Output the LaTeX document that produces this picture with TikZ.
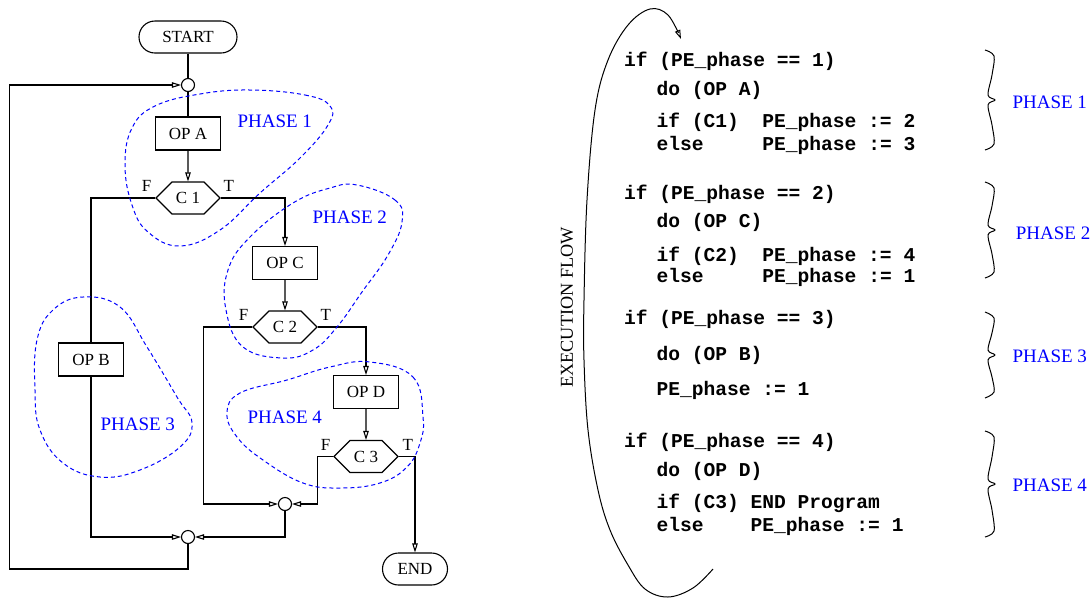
\documentclass[tikz,border=0pt]{standalone}
\usepackage{fontspec}
\setmainfont{Liberation Serif}
\newfontfamily\codefont{Liberation Mono}
\usetikzlibrary{arrows.meta,shapes.symbols}
\newcommand\chartfont{\fontsize{17}{20}\selectfont}
\newcommand\phasefont{\fontsize{19}{22}\selectfont}
\newcommand\listfont{\codefont\bfseries\fontsize{19.6}{22}\selectfont}
\tikzset{
  opbox/.style={draw, minimum width=65pt, minimum height=33pt, inner sep=0pt, font=\chartfont},
  termbox/.style={draw, rounded corners=16pt, minimum width=65pt, minimum height=32pt, inner sep=0pt, font=\chartfont},
  testhex/.style={draw, signal, signal to=east and west, signal pointer angle=90, minimum width=64pt, minimum height=32pt, inner sep=0pt, font=\chartfont},
  joint/.style={draw, circle, minimum size=13pt, inner sep=0pt},
  flag/.style={inner sep=0pt, font=\chartfont},
  phase/.style={inner sep=0pt, text=blue, font=\phasefont, anchor=base west},
  code/.style={inner sep=0pt, font=\listfont, anchor=base west},
  blob/.style={draw=blue, dash pattern=on 4pt off 3pt, line width=1pt},
  brc/.style={line width=1pt},
  arrowin/.style={-{Triangle[open, length=9pt, width=5.5pt]}}
}
\begin{document}
\begin{tikzpicture}[x=1pt, y=-1pt, line width=1.1pt]
  \useasboundingbox (0,0) rectangle (1090,598);
  \node[termbox, minimum width=98pt] (start) at (188,37) {START};
  \node[joint] (j1) at (188,85) {};
  \node[opbox] (opa) at (188,133.5) {OP A};
  \node[testhex] (c1) at (188,198) {C 1};
  \node[opbox] (opc) at (285,263) {OP C};
  \node[testhex] (c2) at (285,327) {C 2};
  \node[opbox] (opd) at (366,392) {OP D};
  \node[testhex] (c3) at (366,456.5) {C 3};
  \node[termbox] (stop) at (415,569) {END};
  \node[opbox] (opb) at (91,359.5) {OP B};
  \node[joint] (j2) at (285,504) {};
  \node[joint] (j3) at (188,537) {};
  \coordinate (back) at (9.5,569);
  \node[flag, anchor=base east] (c1f) at (152,191) {F};
  \node[flag, anchor=base west] (c1t) at (223,191) {T};
  \node[flag, anchor=base east] (c2f) at (249,320) {F};
  \node[flag, anchor=base west] (c2t) at (320,320) {T};
  \node[flag, anchor=base east] (c3f) at (331,450) {F};
  \node[flag, anchor=base west] (c3t) at (402,450) {T};
  \begin{scope}
    \draw (start) -- (j1);
    \draw (j1) -- (opa);
    \draw[arrowin] (opa) -- (c1);
    \draw[arrowin] (c1.east) -| (opc.north);
    \draw[arrowin] (opc) -- (c2);
    \draw[arrowin] (c2.east) -| (opd.north);
    \draw[arrowin] (opd) -- (c3);
    \draw[arrowin] (c3.east) -| (stop.north);
    \draw (c1.west) -| (opb.north);
    \draw[arrowin] (opb.south) |- (j3.west);
    \draw[arrowin] (c2.west) -- ++(-49,0) |- (j2.west);
    \draw[arrowin] (c3.west) -- ++(-16,0) |- (j2.east);
    \draw[arrowin] (j2.south) |- (j3.east);
    \draw[arrowin] (j3.south) |- (back) |- (j1.west);
  \end{scope}
  \draw[blob] plot[smooth cycle, tension=0.7] coordinates {(250,90) (305,95) (330,106) (328,125) (300,158) (260,193) (220,230) (180,246) (148,232) (132,205) (125,165) (132,128) (155,106) (200,94)};
  \draw[blob] plot[smooth cycle, tension=0.7] coordinates {(357,185) (395,200) (402,222) (388,255) (362,292) (337,327) (313,350) (283,358) (243,347) (226,310) (228,270) (250,237) (293,203) (330,188)};
  \draw[blob] plot[smooth cycle, tension=0.7] coordinates {(83,297) (120,307) (147,347) (177,397) (192,423) (180,447) (140,470) (100,477) (63,463) (40,430) (35,390) (37,340) (53,310)};
  \draw[blob] plot[smooth cycle, tension=0.7] coordinates {(370,362) (413,377) (423,417) (420,443) (407,467) (380,483) (340,488) (303,483) (263,460) (237,437) (227,413) (240,393) (287,380) (330,367)};
  \node[phase] (ph1) at (237,127) {PHASE 1};
  \node[phase] (ph2) at (312,223) {PHASE 2};
  \node[phase] (ph3) at (100,430) {PHASE 3};
  \node[phase] (ph4) at (247,423) {PHASE 4};
  \node[rotate=90, font=\fontsize{18.2}{20}\selectfont] (exec) at (567,307.5) {EXECUTION FLOW};
  \draw[arrowin, line width=1pt] plot[smooth, tension=0.6] coordinates {(713,569) (693,588) (668,597) (645,589) (628,565) (610,530) (598,490) (588,430) (584,360) (584,300) (587,200) (595,110) (608,60) (628,25) (650,9) (668,15) (681,39)};
  \node[code] (ph1test) at (623.5,66.5) {if (PE\_phase == 1)};
  \node[code] (ph1do) at (656,95.7) {do (OP A)};
  \node[code] (ph1if) at (656,127.7) {if (C1)\ \ PE\_phase := 2};
  \node[code] (ph1else) at (656,150.7) {else\ \ \ \ \ PE\_phase := 3};
  \node[code] (ph2test) at (623.5,199) {if (PE\_phase == 2)};
  \node[code] (ph2do) at (656,227.7) {do (OP C)};
  \node[code] (ph2if) at (656,261) {if (C2)\ \ PE\_phase := 4};
  \node[code] (ph2else) at (656,282.7) {else\ \ \ \ \ PE\_phase := 1};
  \node[code] (ph3test) at (623.5,324.3) {if (PE\_phase == 3)};
  \node[code] (ph3do) at (656,360.7) {do (OP B)};
  \node[code] (ph3set) at (656,395.3) {PE\_phase := 1};
  \node[code] (ph4test) at (623.5,447.3) {if (PE\_phase == 4)};
  \node[code] (ph4do) at (656,476.7) {do (OP D)};
  \node[code] (ph4if) at (656,508.3) {if (C3) END Program};
  \node[code] (ph4else) at (656,531.3) {else\ \ \ \ PE\_phase := 1};
  \draw[brc] plot[smooth, tension=0.55] coordinates {(985,50) (994,56) (992,75) (988,95) (995,100) (988,105) (992,125) (994,144) (985,150)};
  \draw[brc] plot[smooth, tension=0.55] coordinates {(985,182) (994,188) (992,206) (988,225) (995,230) (988,235) (992,254) (994,272) (985,278)};
  \draw[brc] plot[smooth, tension=0.55] coordinates {(985,312) (994,318) (992,333) (988,350) (995,355) (988,360) (992,377) (994,392) (985,398)};
  \draw[brc] plot[smooth, tension=0.55] coordinates {(985,431) (994,437) (992,457) (988,479) (995,484) (988,489) (992,510) (994,531) (985,537)};
  \node[phase] (rph1) at (1012,108) {PHASE 1};
  \node[phase] (rph2) at (1015.3,239) {PHASE 2};
  \node[phase] (rph3) at (1012,362.7) {PHASE 3};
  \node[phase] (rph4) at (1012,491.7) {PHASE 4};
\end{tikzpicture}
\end{document}
